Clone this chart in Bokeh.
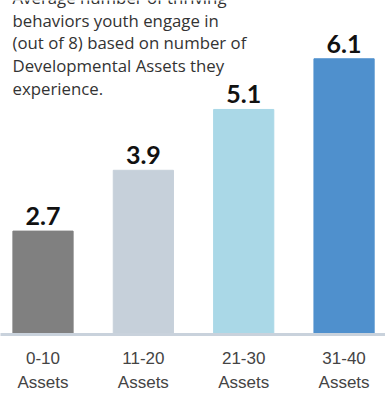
from bokeh.plotting import figure
from bokeh.models import ColumnDataSource, Range1d, FixedTicker, Label
from bokeh.embed import file_html
from bokeh.resources import INLINE
from bokeh.core.properties import value

categories = ["0-10\nAssets", "11-20\nAssets", "21-30\nAssets", "31-40\nAssets"]
values = [2.7, 3.9, 5.1, 6.1]
value_labels = ["2.7", "3.9", "5.1", "6.1"]
colors = ["#808080", "#c6d0da", "#aad8e7", "#4f90cd"]
title_lines = ["Average number of thriving", "behaviors youth engage in",
               "(out of 8) based on number of", "Developmental Assets they", "experience."]

positions = list(range(len(categories)))
src = ColumnDataSource(dict(x=positions, top=values, label=value_labels, color=colors))

p = figure(width=385, height=398, output_backend="svg", toolbar_location=None,
           x_range=Range1d(-0.4236, 3.413), y_range=Range1d(0.66, 7.25),
           min_border_left=0, min_border_right=0, min_border_top=0, min_border_bottom=64,
           outline_line_color=None)
p.vbar(x="x", top="top", bottom=0, width=0.6, color="color", source=src)
p.text(x="x", y="top", text="label", source=src, text_align="center",
       text_baseline="bottom", y_offset=-6, text_font=value("Lato"),
       text_font_style="bold", text_font_size="25px", text_color="#111111")

p.yaxis.visible = False
p.grid.visible = False
ax = p.xaxis[0]
ax.ticker = FixedTicker(ticks=positions)
ax.major_label_overrides = {i: c for i, c in zip(positions, categories)}
ax.major_tick_line_color = None
ax.minor_tick_line_color = None
ax.major_tick_out = 0
ax.major_label_standoff = 14
ax.axis_line_color = "#c9d2dc"
ax.axis_line_width = 3
ax.major_label_text_font = "Liberation Sans"
ax.major_label_text_font_size = "17px"
ax.major_label_text_color = "#444444"
ax.major_label_text_line_height = 1.3

for i, line in enumerate(title_lines):
    p.add_layout(Label(x=12, y=334 - (-3 + 22.7 * i), x_units="screen", y_units="screen",
                       text=line, text_font="Open Sans", text_font_size="16.8px",
                       text_color="#333333", text_baseline="alphabetic"))

open("out.html", "w").write(file_html(p, INLINE))
